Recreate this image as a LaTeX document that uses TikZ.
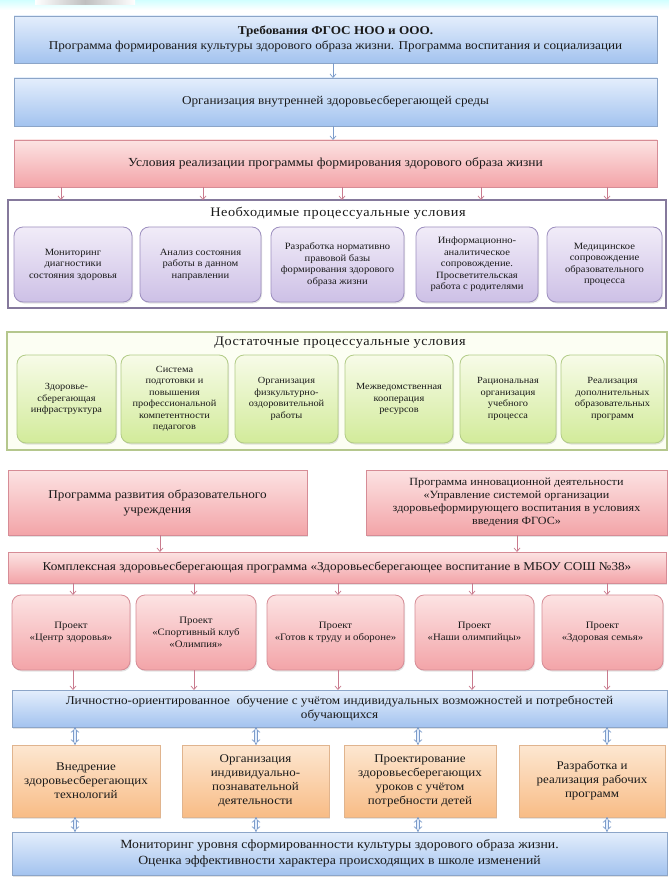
\documentclass[tikz,border=0pt]{standalone}
\usepackage{fontspec}
\setmainfont[FakeStretch=1.1]{Liberation Serif}
\usetikzlibrary{arrows.meta,shadows,calc}
\definecolor{bluetop}{HTML}{E4EEFC}
\definecolor{bluebot}{HTML}{A3C3EF}
\definecolor{blueline}{HTML}{8CA5C8}
\definecolor{redtop}{HTML}{FCE3E3}
\definecolor{redbot}{HTML}{F3A4A8}
\definecolor{redline}{HTML}{D68C96}
\definecolor{purtop}{HTML}{F1ECF8}
\definecolor{purbot}{HTML}{CDC0E6}
\definecolor{purline}{HTML}{9D8FBF}
\definecolor{purframe}{HTML}{85799C}
\definecolor{grnframe}{HTML}{B5C78D}
\definecolor{grnfill}{HTML}{FCFEF3}
\definecolor{grntop}{HTML}{F7FBE8}
\definecolor{grnbot}{HTML}{D2EB9A}
\definecolor{grnline}{HTML}{B2CB86}
\definecolor{ortop}{HTML}{FDE7D1}
\definecolor{orbot}{HTML}{F8BC86}
\definecolor{orline}{HTML}{E0B48E}
\definecolor{rarrow}{HTML}{C97B8E}
\definecolor{barrow}{HTML}{7C9CCB}
\definecolor{txt}{HTML}{1A1A1A}
\begin{document}
\begin{tikzpicture}[x=1pt,y=-1pt,
  every node/.style={outer sep=0pt, inner sep=1pt, align=center, text=txt},
  base/.style={draw, anchor=north west, line width=0.8pt,
    drop shadow={opacity=0.22, shadow xshift=1pt, shadow yshift=-1.5pt}},
  bluebox/.style={base, draw=blueline, top color=bluetop, bottom color=bluebot,
    font=\fontsize{12}{15}\selectfont},
  redbox/.style={base, draw=redline, top color=redtop, bottom color=redbot,
    font=\fontsize{12}{15}\selectfont},
  projbox/.style={base, draw=redline, top color=redtop, bottom color=redbot,
    rounded corners=9pt, font=\fontsize{9.8}{12}\selectfont},
  purbox/.style={base, draw=purline, top color=purtop, bottom color=purbot,
    rounded corners=9pt, font=\fontsize{9.6}{11.5}\selectfont},
  grnbox/.style={base, draw=grnline, top color=grntop, bottom color=grnbot,
    rounded corners=9pt, font=\fontsize{9.4}{11.5}\selectfont},
  orbox/.style={base, draw=orline, top color=ortop, bottom color=orbot,
    font=\fontsize{11.8}{14}\selectfont},
  pframe/.style={draw=purframe, line width=1.4pt, fill=white, anchor=north west},
  gframe/.style={draw=grnframe, line width=1.4pt, fill=grnfill, anchor=north west},
  ftitle/.style={font=\fontsize{13}{15}\selectfont\addfontfeature{LetterSpace=4}},
  rarr/.style={draw=rarrow, line width=0.7pt, -{Straight Barb[length=3.5pt,width=6pt]}},
  barr/.style={draw=barrow, double=bluetop, double distance=2.2pt, line width=0.7pt,
    {Implies}-{Implies}}
]
\useasboundingbox (0,0) rectangle (669,877);
\fill[white] (0,0) rectangle (669,877);
\shade[top color=cyan!18, bottom color=white] (0,0) rectangle (669,10);
\shade[left color=white, right color=white, middle color=black!25] (35,0) rectangle (135,5);

% x positions of connectors
\coordinate (xa) at (333,0);
\coordinate (x1) at (61,0);
\coordinate (x2) at (203,0);
\coordinate (x3) at (342,0);
\coordinate (x4) at (481,0);
\coordinate (x5) at (607,0);
\coordinate (y1) at (160,0);
\coordinate (y2) at (517,0);
\coordinate (k1) at (73,0);
\coordinate (k2) at (194,0);
\coordinate (k3) at (338,0);
\coordinate (k4) at (472,0);
\coordinate (k5) at (607,0);
\coordinate (d1) at (75,0);
\coordinate (d2) at (256,0);
\coordinate (d3) at (418,0);
\coordinate (d4) at (607,0);

% top blocks
\node[bluebox, minimum width=643, minimum height=47] (b1) at (14,16)
  {\textbf{Требования ФГОС НОО и ООО.}\\Программа формирования культуры здорового образа жизни. Программа воспитания и социализации};
\node[bluebox, minimum width=643, minimum height=48] (b2) at (14,78)
  {Организация внутренней здоровьесберегающей среды};
\node[redbox, minimum width=643, minimum height=47, font=\fontsize{12.3}{15}\selectfont] (b3) at (14,140)
  {Условия реализации программы формирования здорового образа жизни};
\draw[rarr, draw=barrow] (b1.south -| xa) -- (b2.north -| xa);
\draw[rarr, draw=barrow] (b2.south -| xa) -- (b3.north -| xa);

% necessary conditions
\node[pframe, minimum width=658, minimum height=108] (pf) at (8,200) {};
\node[ftitle] (pt) at (338,213) {Необходимые процессуальные условия};
\foreach \c in {x1,x2,x3,x4,x5} \draw[rarr] (b3.south -| \c) -- (pf.north -| \c);
\node[purbox, minimum width=118, minimum height=75] (p1) at (14,227)
  {Мониторинг\\диагностики\\состояния здоровья};
\node[purbox, minimum width=121, minimum height=75] (p2) at (140,227)
  {Анализ состояния\\работы в данном\\направлении};
\node[purbox, minimum width=133, minimum height=75] (p3) at (271,227)
  {Разработка нормативно\\правовой базы\\формирования здорового\\образа жизни};
\node[purbox, minimum width=122, minimum height=75] (p4) at (416,227)
  {Информационно-\\аналитическое\\сопровождение.\\Просветительская\\работа с родителями};
\node[purbox, minimum width=115, minimum height=75] (p5) at (547,227)
  {Медицинское\\сопровождение\\образовательного\\процесса};

% sufficient conditions
\node[gframe, minimum width=660, minimum height=118] (gf) at (7,332) {};
\node[ftitle] (gt) at (340,343) {Достаточные процессуальные условия};
\node[grnbox, minimum width=99, minimum height=88] (g1) at (17,355)
  {Здоровье-\\сберегающая\\инфраструктура};
\node[grnbox, minimum width=107, minimum height=88] (g2) at (121,355)
  {Система\\подготовки и\\повышения\\профессиональной\\компетентности\\педагогов};
\node[grnbox, minimum width=103, minimum height=88] (g3) at (235,355)
  {Организация\\физкультурно-\\оздоровительной\\работы};
\node[grnbox, minimum width=108, minimum height=88] (g4) at (345,355)
  {Межведомственная\\кооперация\\ресурсов};
\node[grnbox, minimum width=96, minimum height=88] (g5) at (460,355)
  {Рациональная\\организация\\учебного\\процесса};
\node[grnbox, minimum width=103, minimum height=88] (g6) at (561,355)
  {Реализация\\дополнительных\\образовательных\\программ};

% programmes
\node[redbox, minimum width=299, minimum height=65] (r1) at (8,470)
  {Программа развития образовательного\\учреждения};
\node[redbox, minimum width=301, minimum height=65, font=\fontsize{11}{13}\selectfont] (r2) at (366,470)
  {Программа инновационной деятельности\\«Управление системой организации\\здоровьеформирующего воспитания в условиях\\введения ФГОС»};
\node[redbox, minimum width=658, minimum height=31, font=\fontsize{12}{14}\selectfont] (k) at (8,552)
  {Комплексная здоровьесберегающая программа «Здоровьесберегающее воспитание в МБОУ СОШ №38»};
\draw[rarr] (r1.south -| y1) -- (k.north -| y1);
\draw[rarr] (r2.south -| y2) -- (k.north -| y2);

% projects
\node[projbox, minimum width=118, minimum height=75] (q1) at (12,595)
  {Проект\\«Центр здоровья»};
\node[projbox, minimum width=120, minimum height=75] (q2) at (136,595)
  {Проект\\«Спортивный клуб\\«Олимпия»};
\node[projbox, minimum width=137, minimum height=75] (q3) at (267,595)
  {Проект\\«Готов к труду и обороне»};
\node[projbox, minimum width=119, minimum height=75] (q4) at (415,595)
  {Проект\\«Наши олимпийцы»};
\node[projbox, minimum width=121, minimum height=75] (q5) at (542,595)
  {Проект\\«Здоровая семья»};
\node[bluebox, minimum width=655, minimum height=37, font=\fontsize{12}{13.5}\selectfont] (L) at (12,690)
  {Личностно-ориентированное\ \ обучение с учётом индивидуальных возможностей и потребностей\\обучающихся};
\foreach \c/\q in {k1/q1,k2/q2,k3/q3,k4/q4,k5/q5} {
  \draw[rarr] (k.south -| \c) -- (\q.north -| \c);
  \draw[rarr] (\q.south -| \c) -- (L.north -| \c);
}

% technologies
\node[orbox, minimum width=148, minimum height=72] (o1) at (12,745)
  {Внедрение\\здоровьесберегающих\\технологий};
\node[orbox, minimum width=147, minimum height=72] (o2) at (182,745)
  {Организация\\индивидуально-\\познавательной\\деятельности};
\node[orbox, minimum width=152, minimum height=72] (o3) at (344,745)
  {Проектирование\\здоровьесберегающих\\уроков с учётом\\потребности детей};
\node[orbox, minimum width=146, minimum height=72] (o4) at (519,745)
  {Разработка и\\реализация рабочих\\программ};
\node[bluebox, minimum width=655, minimum height=43, font=\fontsize{12.5}{15.5}\selectfont] (M) at (12,832)
  {Мониторинг уровня сформированности культуры здорового образа жизни.\\Оценка эффективности характера происходящих в школе изменений};
\foreach \c/\o in {d1/o1,d2/o2,d3/o3,d4/o4} {
  \draw[barr] (L.south -| \c) -- (\o.north -| \c);
  \draw[barr] (\o.south -| \c) -- (M.north -| \c);
}
\end{tikzpicture}
\end{document}
